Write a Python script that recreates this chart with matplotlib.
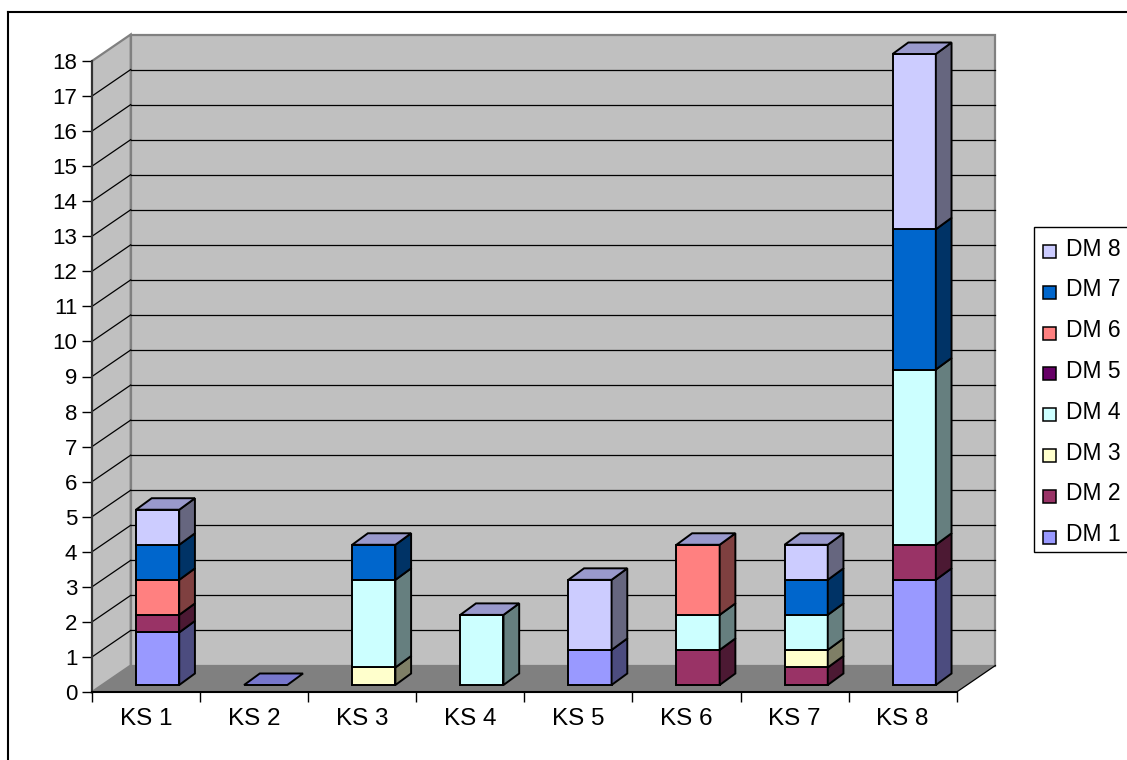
import matplotlib
matplotlib.use('Agg')
import matplotlib.pyplot as plt
from matplotlib.patches import Polygon, Rectangle
from matplotlib.lines import Line2D
import matplotlib.transforms as mtransforms

plt.rcParams['font.family'] = ['Liberation Sans', 'DejaVu Sans']

# ---------------- data ----------------
categories = ['KS 1', 'KS 2', 'KS 3', 'KS 4', 'KS 5', 'KS 6', 'KS 7', 'KS 8']
series_names = ['DM 1', 'DM 2', 'DM 3', 'DM 4', 'DM 5', 'DM 6', 'DM 7', 'DM 8']
dm1 = [1.5, 0, 0, 0, 1, 0, 0, 3]
dm2 = [0.5, 0, 0, 0, 0, 1, 0.5, 1]
dm3 = [0, 0, 0.5, 0, 0, 0, 0.5, 0]
dm4 = [0, 0, 2.5, 2, 0, 1, 1, 5]
dm5 = [0, 0, 0, 0, 0, 0, 0, 0]
dm6 = [1, 0, 0, 0, 0, 2, 0, 0]
dm7 = [1, 0, 1, 0, 0, 0, 1, 4]
dm8 = [1, 0, 0, 0, 2, 0, 1, 5]
series_values = [dm1, dm2, dm3, dm4, dm5, dm6, dm7, dm8]
y_ticks = list(range(0, 19))

colors = ['#9999FF', '#993366', '#FFFFCC', '#CCFFFF', '#660066', '#FF8080', '#0066CC', '#CCCCFF']
top_color = '#9999CC'
zero_plate_color = '#7777CC'


def darker(hexc, f=0.5):
    r = int(hexc[1:3], 16); g = int(hexc[3:5], 16); b = int(hexc[5:7], 16)
    return '#%02X%02X%02X' % (int(r * f), int(g * f), int(b * f))


# ---------------- figure / axes ----------------
W, H = 1127, 760
fig = plt.figure(figsize=(W / 100, H / 100), dpi=100)
fig.patch.set_facecolor('white')

ax_left, ax_right, ax_bottom, ax_top = 92, 956.7, 692, 61
ax = fig.add_axes([ax_left / W, (H - ax_bottom) / H, (ax_right - ax_left) / W, (ax_bottom - ax_top) / H])
ax.patch.set_visible(False)
n = len(categories)
ax.set_xlim(-0.5, n - 0.5)
ax.set_ylim(0, 18)

ppx = (ax_right - ax_left) / n
ppy = (ax_bottom - ax_top) / 18.0
DX = 38.7 / ppx
DY = 26.5 / ppy
BDX = 15.7 / ppx
BDY = 11.5 / ppy

wall_gray = '#C0C0C0'
edge_gray = '#808080'

# back wall
ax.add_patch(Rectangle((-0.5 + DX, DY), n, 18, facecolor=wall_gray, edgecolor=edge_gray,
                       lw=1.6, zorder=0.5, clip_on=False))
# side wall
ax.add_patch(Polygon([(-0.5, 0), (-0.5 + DX, DY), (-0.5 + DX, 18 + DY), (-0.5, 18)],
                     closed=True, facecolor=wall_gray, edgecolor=edge_gray, lw=1.6,
                     zorder=0.6, clip_on=False))
# floor
ax.add_patch(Polygon([(-0.5, 0), (n - 0.5, 0), (n - 0.5 + DX, DY), (-0.5 + DX, DY)],
                     closed=True, facecolor='#808080', edgecolor='none', zorder=0.7, clip_on=False))
ax.add_line(Line2D([n - 0.5, n - 0.5 + DX], [0, DY], color='black', lw=0.9, zorder=0.8, clip_on=False))

# gridlines
for k in y_ticks[1:-1]:
    ax.add_line(Line2D([-0.5 + DX, n - 0.5 + DX], [k + DY, k + DY], color='black', lw=0.9,
                       zorder=0.9, clip_on=False))
    ax.add_line(Line2D([-0.5, -0.5 + DX], [k, k + DY], color='black', lw=0.9,
                       zorder=0.9, clip_on=False))

# axes spines & ticks
for s in ['top', 'right']:
    ax.spines[s].set_visible(False)
ax.spines['left'].set_color('#333333')
ax.spines['left'].set_linewidth(1.5)
ax.spines['bottom'].set_color('black')
ax.spines['bottom'].set_linewidth(1.5)

ax.set_yticks(y_ticks)
ax.set_yticklabels([str(t) for t in y_ticks], fontsize=16)
ax.tick_params(axis='y', length=7.2, width=1, pad=3.4, color='black', direction='out')

ax.set_xticks([i - 0.5 for i in range(n + 1)])
ax.set_xticklabels([''] * (n + 1))
ax.set_xticks(list(range(n)), minor=True)
ax.set_xticklabels(categories, minor=True, fontsize=17.5)
ax.tick_params(axis='x', which='major', length=7.2, width=1, color='black', direction='out')
ax.tick_params(axis='x', which='minor', length=0, pad=11.5)

# ---------------- 3D-style stacked bars ----------------
T_front = ax.transData + mtransforms.ScaledTranslation(0, 7 / 100, fig.dpi_scale_trans)
bar_w = 0.4
bar_off = -0.093
edge_lw = 1.4
z = 3
for i in range(n):
    x0 = i + bar_off
    x1 = x0 + bar_w
    total = sum(sv[i] for sv in series_values)
    if total == 0:
        ax.add_patch(Polygon([(x0, 0), (x1, 0), (x1 + BDX, BDY), (x0 + BDX, BDY)], closed=True,
                             facecolor=zero_plate_color, edgecolor='black', lw=edge_lw,
                             transform=T_front, zorder=z, clip_on=False))
        z += 1
        continue
    b = 0.0
    for s, sv in enumerate(series_values):
        v = sv[i]
        if v <= 0:
            continue
        ax.bar([x0], [v], width=bar_w, bottom=[b], align='edge', color=colors[s],
               edgecolor='black', linewidth=edge_lw, transform=T_front, zorder=z, clip_on=False)
        ax.add_patch(Polygon([(x1, b), (x1 + BDX, b + BDY), (x1 + BDX, b + v + BDY), (x1, b + v)],
                             closed=True, facecolor=darker(colors[s]), edgecolor='black',
                             lw=edge_lw, transform=T_front, zorder=z, clip_on=False))
        b += v
        z += 1
    ax.add_patch(Polygon([(x0, b), (x1, b), (x1 + BDX, b + BDY), (x0 + BDX, b + BDY)], closed=True,
                         facecolor=top_color, edgecolor='black', lw=edge_lw,
                         transform=T_front, zorder=z, clip_on=False))
    z += 1

ax.set_xlim(-0.5, n - 0.5)
ax.set_ylim(0, 18)

# ---------------- legend (manual, DM 8 on top) ----------------
ft = fig.transFigure
fig.add_artist(Rectangle((1034 / W, 1 - 552 / H), 120 / W, (552 - 227) / H, transform=ft,
                         facecolor='white', edgecolor='black', lw=1.0))
for j, s in enumerate(reversed(range(len(series_names)))):
    yc = 249 + j * 40.8
    fig.add_artist(Rectangle((1043 / W, 1 - (yc + 9) / H), 13 / W, 13 / H, transform=ft,
                             facecolor=colors[s], edgecolor='black', lw=1.1))
    fig.text(1065.5 / W, 1 - yc / H, series_names[s], fontsize=16.5, va='center', ha='left')

# ---------------- outer frame ----------------
fig.add_artist(Line2D([8 / W, 8 / W], [1 - 12 / H, -0.1], transform=ft, color='black', lw=1.5))
fig.add_artist(Line2D([8 / W, 1.1], [1 - 12 / H, 1 - 12 / H], transform=ft, color='black', lw=1.5))

fig.savefig('out.png', dpi=100)
